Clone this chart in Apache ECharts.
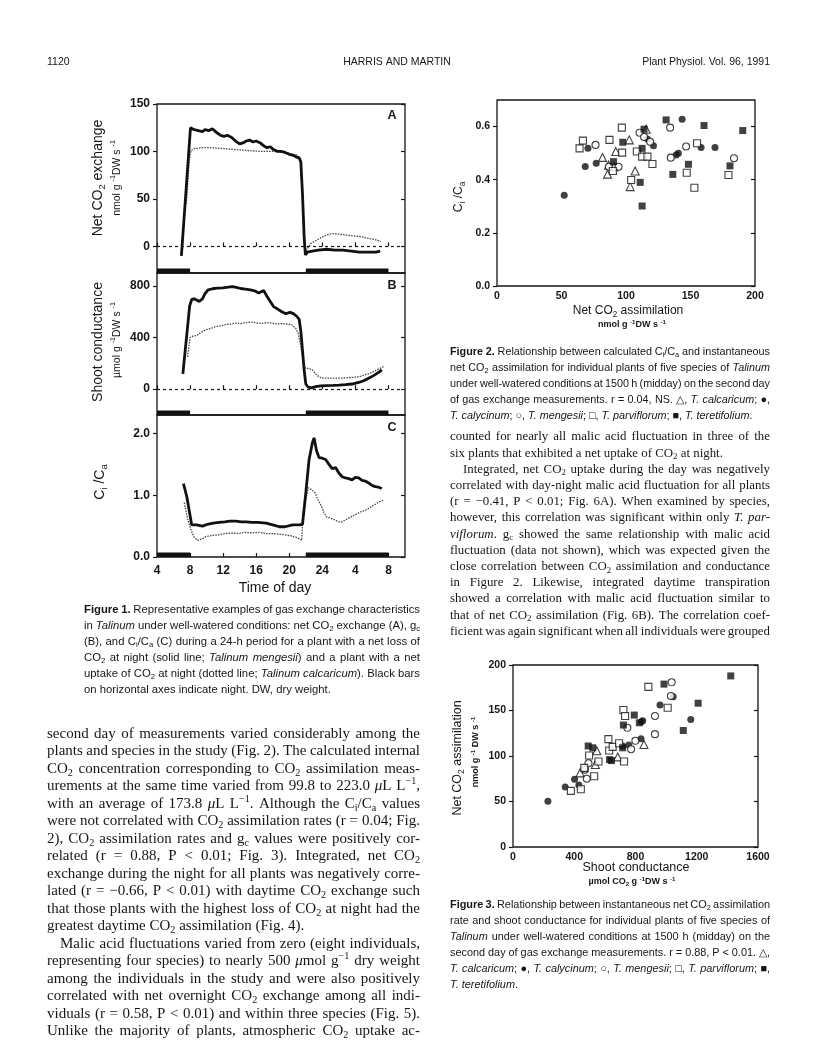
<!DOCTYPE html>
<html><head><meta charset="utf-8">
<script src="https://cdn.jsdelivr.net/npm/echarts@6/dist/echarts.min.js"></script>
<style>html,body{margin:0;padding:0;background:#fff}#c{width:816px;height:1052px}</style>
</head><body><div id="c"></div>
<script>
// ---------------- DATA ----------------
const hourTicks = [4, 8, 12, 16, 20, 24, 28, 32];
const nightStart = [4, 22];
const nightEnd = [8, 32];

// Fig 1A net CO2 exchange (solid: T. mengesii, dotted: T. calcaricum)
const netCO2_mengesii = [[6.95,-10],[8.05,125],[8.5,123],[9.0,122],[9.5,121],[9.8,123],[10.3,122],[10.7,124],[11.2,120],[11.7,117],[12.1,116],[12.5,117],[13.0,115],[13.5,111],[14.0,108],[14.4,109],[14.8,111],[15.2,112],[15.6,110],[16.0,111],[16.5,109],[16.9,106],[17.3,104],[17.7,105],[18.1,102],[18.6,100],[19.0,100],[19.5,99],[20.0,97],[20.5,96],[20.9,94],[21.2,93],[21.4,89],[21.6,55],[21.8,10],[21.95,-9],[22.2,-6],[22.8,-5],[23.5,-4],[24.5,-3],[25.5,-4],[26.5,-4],[27.5,-5],[28.5,-6],[29.5,-6],[30.5,-6],[31.0,-5]];
const netCO2_calcaricum = [[7.55,45],[7.9,90],[8.1,101],[8.5,103],[9.5,104],[10.5,104],[12,103],[13.5,102],[15,101],[16.5,100],[18,100],[19.5,99],[20.5,97],[21.0,96],[21.4,92],[21.6,60],[21.8,10],[21.95,-8],[22.2,-2],[22.6,3],[23.2,6],[23.8,9],[24.5,12],[25.2,13.5],[26,13],[26.8,12],[27.8,11],[28.8,10],[29.8,8],[30.5,7],[31.1,5]];

// Fig 1B shoot conductance
const gc_mengesii = [[7.13,118],[7.95,645],[8.2,695],[8.5,700],[8.8,690],[9.1,680],[9.5,700],[9.8,740],[10.2,770],[10.7,778],[11.3,783],[12,785],[12.6,790],[13.1,795],[13.6,788],[14.1,780],[14.7,775],[15.3,770],[15.8,762],[16.3,745],[16.9,765],[17.3,720],[17.7,680],[18.1,640],[18.6,620],[19.1,600],[19.6,585],[20.1,595],[20.5,585],[20.9,565],[21.2,540],[21.4,450],[21.6,300],[21.8,150],[22.0,40],[22.3,15],[22.7,10],[23.2,20],[23.8,25],[24.5,28],[25.3,30],[26.0,32],[26.8,35],[27.6,40],[28.4,52],[29.0,65],[29.6,85],[30.2,105],[30.8,130],[31.2,150]];
const gc_calcaricum = [[7.7,250],[8.0,400],[8.3,410],[8.8,415],[9.3,440],[9.9,460],[10.5,470],[11.1,485],[11.7,490],[12.3,500],[12.9,505],[13.5,512],[14.1,508],[14.7,515],[15.5,520],[16.1,512],[16.7,510],[17.3,515],[17.9,512],[18.5,505],[19.1,508],[19.7,505],[20.3,500],[20.8,470],[21.1,430],[21.4,330],[21.7,220],[21.9,165],[22.3,160],[22.8,150],[23.3,110],[23.9,85],[24.6,85],[25.4,85],[26.2,85],[27.0,88],[27.8,92],[28.6,100],[29.4,115],[30.0,130],[30.6,150],[31.1,165],[31.4,175]];

// Fig 1C Ci/Ca
const ci_mengesii = [[7.2,1.19],[7.6,0.98],[8.2,0.52],[8.8,0.52],[9.5,0.5],[10.1,0.53],[10.8,0.55],[11.5,0.56],[12.2,0.57],[12.8,0.58],[13.5,0.58],[14.2,0.57],[14.8,0.57],[15.5,0.56],[16.2,0.56],[17.2,0.55],[18.0,0.52],[18.8,0.49],[19.5,0.49],[20.4,0.52],[21.2,0.52],[21.6,0.53],[22.0,1.04],[22.4,1.58],[22.8,1.85],[23.0,1.93],[23.3,1.72],[23.6,1.61],[24.0,1.6],[24.4,1.58],[24.8,1.5],[25.2,1.43],[25.6,1.45],[26.0,1.36],[26.4,1.3],[26.8,1.28],[27.2,1.27],[27.6,1.25],[28.0,1.29],[28.4,1.28],[28.8,1.24],[29.2,1.23],[29.6,1.2],[30.0,1.16],[30.4,1.14],[30.8,1.13],[31.2,1.11]];
const ci_calcaricum = [[7.3,0.88],[7.7,0.62],[8.1,0.44],[8.5,0.32],[8.9,0.27],[9.4,0.29],[9.9,0.33],[10.7,0.35],[11.5,0.36],[12.3,0.38],[13.1,0.39],[13.9,0.38],[14.7,0.4],[15.5,0.39],[16.3,0.4],[17.1,0.38],[17.9,0.38],[18.7,0.37],[19.5,0.36],[20.3,0.34],[21.0,0.31],[21.5,0.27],[21.7,0.76],[22.3,1.12],[22.7,1.09],[23.1,1.04],[23.5,0.92],[23.9,0.82],[24.2,0.72],[24.5,0.65],[25.0,0.63],[25.5,0.6],[26.0,0.57],[26.4,0.57],[26.8,0.6],[27.2,0.63],[27.6,0.66],[28.2,0.7],[28.8,0.74],[29.4,0.77],[30.0,0.82],[30.6,0.87],[31.0,0.9],[31.4,0.92]];

// Fig 2: [net CO2 assimilation, Ci/Ca]
const fig2_calcaricum = [[81.8,0.484],[86.5,0.455],[85.7,0.421],[92.1,0.506],[90.8,0.449],[102.5,0.55],[103.2,0.374],[107.1,0.433],[115.6,0.59]];
const fig2_calycinum = [[52.1,0.342],[68.4,0.450],[70.5,0.518],[76.9,0.462],[116.6,0.553],[121.3,0.528],[138.8,0.493],[140.6,0.5],[143.5,0.628],[158.2,0.521],[169,0.521]];
const fig2_mengesii = [[76.4,0.531],[86.7,0.449],[94.2,0.449],[110.5,0.577],[114,0.561],[118.7,0.543],[134.2,0.596],[134.7,0.483],[146.6,0.525],[183.7,0.481]];
const fig2_parviflorum = [[64,0.518],[66.6,0.547],[87.2,0.55],[89.8,0.433],[96.8,0.596],[97,0.502],[104,0.399],[108.4,0.506],[112.5,0.487],[116.6,0.487],[120.5,0.459],[147.1,0.426],[153,0.37],[155.1,0.537],[179.4,0.418]];
const fig2_teretifolium = [[90.3,0.468],[97.5,0.541],[111,0.39],[112.5,0.518],[112.5,0.301],[114,0.59],[131.1,0.625],[136.3,0.42],[148.4,0.458],[160.5,0.604],[180.6,0.452],[190.5,0.585]];

// Fig 3: [shoot conductance, net CO2 assimilation]
const fig3_calcaricum = [[438,81.5],[538,90.6],[547,105.7],[684,99],[855,112.7]];
const fig3_calycinum = [[228,50.3],[341,66],[402,74.5],[430,68],[716,111],[756,112],[836,119],[838,137.6],[847,138.7],[960,156],[1046,165],[1161,140]];
const fig3_mengesii = [[482,75],[470,85],[493,92],[747,131],[771,107.5],[799,116.7],[927,144],[927,124],[1031,166],[1036,181]];
const fig3_parviflorum = [[378,61.7],[443,63.5],[465,87],[497,100.5],[530,77.8],[558,94],[623,118.5],[628,106],[651,110],[693,114],[721,150.5],[732,144],[725,94],[884,176],[1010,153]];
const fig3_teretifolium = [[491,111],[521,109],[630,96],[643,95],[716,109],[721,134],[792,145],[825,136.5],[986,179],[1112,128],[1209,158],[1422,188]];

// tick label values
const fig1A_yTicks = [0, 50, 100, 150];
const fig1B_yTicks = [0, 400, 800];
const fig1C_yTicks = [0, 1, 2];
const fig2_xTicks = [0, 50, 100, 150, 200];
const fig2_yTicks = [0, 0.2, 0.4, 0.6];
const fig3_xTicks = [0, 400, 800, 1200, 1600];
const fig3_yTicks = [0, 50, 100, 150, 200];

// ---------------- TEXT ENGINE ----------------
const SANS = '"Liberation Sans", Arial, Helvetica, sans-serif';
const SERIF = '"Liberation Serif", "Times New Roman", serif';
const INK = '#161616';
const mctx = document.createElement('canvas').getContext('2d');
function parseLine(s){
  const words=[]; let cur=[]; let it=false,b=false,sc=0; let buf='';
  const flush=()=>{ if(buf){cur.push({t:buf,it,b,sc}); buf='';} };
  for(let i=0;i<s.length;i++){
    const c=s[i];
    if(c==='*'){flush(); it=!it; continue;}
    if(c==='#'){flush(); b=!b; continue;}
    if((c==='_'||c==='^') && s[i+1]==='{'){flush(); sc=c==='_'?1:-1; i++; continue;}
    if(c==='}' && sc!==0){flush(); sc=0; continue;}
    if(c===' '){flush(); if(cur.length){words.push(cur); cur=[];} continue;}
    buf+=c;
  }
  flush(); if(cur.length) words.push(cur);
  return words;
}
function fsz(r,size){ return r.sc ? size*0.68 : size; }
function fontStr(r,size,fam){ return (r.it?'italic ':'')+(r.b?'bold ':'')+fsz(r,size)+'px '+fam; }
function measureRun(r,size,fam){ mctx.font=fontStr(r,size,fam); return mctx.measureText(r.t).width; }
function measureWord(w,size,fam){ return w.reduce((a,r)=>a+measureRun(r,size,fam),0); }
function textEl(r,x,y,size,fam,color){
  const dy = r.sc===1 ? size*0.28 : (r.sc===-1 ? -size*0.33 : 0);
  return {type:'text', x:x, y:y+dy, silent:true, z:10,
    style:{text:r.t, fill:color, fontSize:fsz(r,size), fontFamily:fam,
      fontWeight:r.b?'bold':'normal', fontStyle:r.it?'italic':'normal',
      align:'left', verticalAlign:'middle', textAlign:'left', textVerticalAlign:'middle'}};
}
function placeWord(w,x,y,size,fam,color,out){ let cx=x; w.forEach(r=>{ out.push(textEl(r,cx,y,size,fam,color)); cx+=measureRun(r,size,fam); }); }
function para(lines,o){
  const P=lines.map(l=>typeof l==='string'?{s:l}:l).map(l=>({w:parseLine(l.s), j:l.j!==false, ind:l.ind||0}));
  let size=o.size;
  mctx.font=size+'px '+o.fam; const sp=mctx.measureText(' ').width;
  let ratio=0;
  P.forEach(p=>{ const nat=p.w.reduce((a,w)=>a+measureWord(w,size,o.fam),0)+(p.w.length-1)*sp*0.75; ratio=Math.max(ratio,nat/(o.w-p.ind)); });
  if(ratio>1) size=size/ratio;
  mctx.font=size+'px '+o.fam; const sp2=mctx.measureText(' ').width;
  const out=[];
  P.forEach((p,i)=>{
    const y=o.y+i*o.lh;
    const ws=p.w.map(w=>measureWord(w,size,o.fam));
    const tot=ws.reduce((a,b)=>a+b,0); const n=p.w.length;
    const gap=(p.j&&n>1)?(o.w-p.ind-tot)/(n-1):sp2;
    let x=o.x+p.ind;
    p.w.forEach((w,k)=>{ placeWord(w,x,y,size,o.fam,o.color||INK,out); x+=ws[k]+gap; });
  });
  return out;
}
function label(s,cx,cy,size,fam,o){
  o=o||{};
  const W=parseLine(s);
  if(o.b) W.forEach(w=>w.forEach(r=>r.b=true));
  mctx.font=(o.b?'bold ':'')+size+'px '+fam; const sp=mctx.measureText(' ').width;
  const ws=W.map(w=>measureWord(w,size,fam));
  const tot=ws.reduce((a,b)=>a+b,0)+sp*(W.length-1);
  const children=[];
  let x=o.align==='left'?0:(o.align==='right'?-tot:-tot/2);
  W.forEach((w,k)=>{ placeWord(w,x,0,size,fam,o.color||INK,children); x+=ws[k]+sp; });
  return {type:'group', x:cx, y:cy, rotation:o.rot||0, silent:true, children};
}

// ---------------- TEXT CONTENT ----------------
const fig1Caption = [
  '#Figure 1.# Representative examples of gas exchange characteristics',
  'in *Talinum* under well-watered conditions: net CO_{2} exchange (A), g_{c}',
  '(B), and C_{i}/C_{a} (C) during a 24-h period for a plant with a net loss of',
  'CO_{2} at night (solid line; *Talinum mengesii*) and a plant with a net',
  'uptake of CO_{2} at night (dotted line; *Talinum calcaricum*). Black bars',
  {s:'on horizontal axes indicate night. DW, dry weight.', j:false}
];
const leftBody = [
  'second day of measurements varied considerably among the',
  'plants and species in the study (Fig. 2). The calculated internal',
  'CO_{2} concentration corresponding to CO_{2} assimilation meas-',
  'urements at the same time varied from 99.8 to 223.0 *μ*L L^{−1},',
  'with an average of 173.8 *μ*L L^{−1}. Although the C_{i}/C_{a} values',
  'were not correlated with CO_{2} assimilation rates (r = 0.04; Fig.',
  '2), CO_{2} assimilation rates and g_{c} values were positively cor-',
  'related (r = 0.88, P < 0.01; Fig. 3). Integrated, net CO_{2}',
  'exchange during the night for all plants was negatively corre-',
  'lated (r = −0.66, P < 0.01) with daytime CO_{2} exchange such',
  'that those plants with the highest loss of CO_{2} at night had the',
  {s:'greatest daytime CO_{2} assimilation (Fig. 4).', j:false},
  {s:'Malic acid fluctuations varied from zero (eight individuals,', ind:13},
  'representing four species) to nearly 500 *μ*mol g^{−1} dry weight',
  'among the individuals in the study and were also positively',
  'correlated with net overnight CO_{2} exchange among all indi-',
  'viduals (r = 0.58, P < 0.01) and within three species (Fig. 5).',
  'Unlike the majority of plants, atmospheric CO_{2} uptake ac-'
];
const fig2Caption = [
  '#Figure 2.# Relationship between calculated C_{i}/C_{a} and instantaneous',
  'net CO_{2} assimilation for individual plants of five species of *Talinum*',
  'under well-watered conditions at 1500 h (midday) on the second day',
  'of gas exchange measurements. r = 0.04, NS. △, *T. calcaricum*; ●,',
  {s:'*T. calycinum*; ○, *T. mengesii*; □, *T. parviflorum*; ■, *T. teretifolium*.', j:false}
];
const rightBody = [
  'counted for nearly all malic acid fluctuation in three of the',
  {s:'six plants that exhibited a net uptake of CO_{2} at night.', j:false},
  {s:'Integrated, net CO_{2} uptake during the day was negatively', ind:13},
  'correlated with day-night malic acid fluctuation for all plants',
  '(r = −0.41, P < 0.01; Fig. 6A). When examined by species,',
  'however, this correlation was significant within only *T. par-*',
  '*viflorum*. g_{c} showed the same relationship with malic acid',
  'fluctuation (data not shown), which was expected given the',
  'close correlation between CO_{2} assimilation and conductance',
  'in Figure 2. Likewise, integrated daytime transpiration',
  'showed a correlation with malic acid fluctuation similar to',
  'that of net CO_{2} assimilation (Fig. 6B). The correlation coef-',
  'ficient was again significant when all individuals were grouped'
];
const fig3Caption = [
  '#Figure 3.# Relationship between instantaneous net CO_{2} assimilation',
  'rate and shoot conductance for individual plants of five species of',
  '*Talinum* under well-watered conditions at 1500 h (midday) on the',
  'second day of gas exchange measurements. r = 0.88, P < 0.01. △,',
  '*T. calcaricum*; ●, *T. calycinum*; ○, *T. mengesii*; □, *T. parviflorum*; ■,',
  {s:'*T. teretifolium*.', j:false}
];

const R = Math.PI/2;
let G = [];
G.push(label('1120', 47, 62, 10.5, SANS, {align:'left'}));
G.push(label('HARRIS AND MARTIN', 397, 62, 10.5, SANS));
G.push(label('Plant Physiol. Vol. 96, 1991', 770, 62, 10.5, SANS, {align:'right'}));
G = G.concat(para(fig1Caption, {x:84, y:610, w:336, lh:16, size:11.3, fam:SANS}));
G = G.concat(para(leftBody, {x:47, y:734, w:373, lh:17.5, size:15, fam:SERIF}));
G = G.concat(para(fig2Caption, {x:450, y:352, w:320, lh:16, size:11.3, fam:SANS}));
G = G.concat(para(rightBody, {x:450, y:437, w:320, lh:16.2, size:15, fam:SERIF}));
G = G.concat(para(fig3Caption, {x:450, y:905, w:320, lh:16, size:11.3, fam:SANS}));
// Fig 1 axis titles / panel letters
G.push(label('Net CO_{2} exchange', 98, 178, 14, SANS, {rot:R}));
G.push(label('nmol g ^{-1}DW s ^{-1}', 117, 178, 10.5, SANS, {rot:R}));
G.push(label('Shoot conductance', 98, 342, 14, SANS, {rot:R}));
G.push(label('µmol g ^{-1}DW s ^{-1}', 117, 340, 10.5, SANS, {rot:R}));
G.push(label('C_{i} /C_{a}', 100, 482, 14, SANS, {rot:R}));
G.push(label('Time of day', 275, 588, 14, SANS));
G.push(label('A', 392, 116, 12.5, SANS, {b:true}));
G.push(label('B', 392, 286, 12.5, SANS, {b:true}));
G.push(label('C', 392, 428, 12.5, SANS, {b:true}));
// Fig 2
G.push(label('C_{i} /C_{a}', 459, 197, 12, SANS, {rot:R}));
G.push(label('Net CO_{2} assimilation', 628, 311, 12, SANS));
G.push(label('nmol g ^{-1}DW s ^{-1}', 632, 325, 9, SANS, {b:true}));
// Fig 3
G.push(label('Net CO_{2} assimilation', 458, 758, 12.5, SANS, {rot:R}));
G.push(label('nmol g ^{-1} DW s ^{-1}', 476, 752, 9, SANS, {rot:R, b:true}));
G.push(label('Shoot conductance', 636, 868, 12.5, SANS));
G.push(label('µmol CO_{2} g ^{-1}DW s ^{-1}', 632, 882, 9, SANS, {b:true}));

// ---------------- CHART ----------------
const gridStyle = {show:true, borderColor:INK, borderWidth:1.3, backgroundColor:'transparent', containLabel:false};
const grids = [
  Object.assign({left:157, top:104, width:248, height:169}, gridStyle),
  Object.assign({left:157, top:273, width:248, height:142}, gridStyle),
  Object.assign({left:157, top:415, width:248, height:142}, gridStyle),
  Object.assign({left:497, top:100, width:258, height:186}, gridStyle),
  Object.assign({left:513, top:665, width:245, height:182}, gridStyle)
];
const lblStyle = {fontFamily:SANS, fontWeight:'bold', color:INK};
function xAx(g, min, max, ticks, showLbl, fmt, showTick, size){
  return {gridIndex:g, type:'value', min, max, axisLine:{show:false}, splitLine:{show:false},
    axisTick:{show:showTick, inside:true, length:4, customValues:ticks, lineStyle:{color:INK, width:1.2}},
    axisLabel:Object.assign({show:showLbl, customValues:ticks, formatter:fmt, fontSize:size||11.5, margin:7}, lblStyle)};
}
function yAx(g, min, max, ticks, fmt, size, right){
  return {gridIndex:g, type:'value', min, max, position:right?'right':'left', axisLine:{show:false}, splitLine:{show:false},
    axisTick:{show:true, inside:!!right, length:4, customValues:ticks, lineStyle:{color:INK, width:1.2}},
    axisLabel:Object.assign({show:!right, customValues:ticks, formatter:fmt, fontSize:size||11.5, margin:7}, lblStyle)};
}
const hourFmt = v => String(v > 24 ? v - 24 : v);
const f1 = v => v.toFixed(1);
const f0 = v => String(v);
const xAxis = [
  xAx(0, 4, 34, hourTicks, false, hourFmt, true),
  xAx(1, 4, 34, hourTicks, false, hourFmt, true),
  xAx(2, 4, 34, hourTicks, true, hourFmt, true, 12),
  xAx(3, 0, 200, fig2_xTicks, true, f0, false, 10.5),
  xAx(4, 0, 1600, fig3_xTicks, true, f0, false, 10.5)
];
xAxis[3].axisLabel.margin = 5; xAxis[4].axisLabel.margin = 5; xAxis[2].axisLabel.margin = 8;
const yAxis = [
  yAx(0, -28, 150, fig1A_yTicks, f0, 12),
  yAx(1, -200, 900, fig1B_yTicks, f0, 12),
  yAx(2, 0, 2.3, fig1C_yTicks, f1, 12),
  yAx(3, 0, 0.7, fig2_yTicks, f1, 10.5),
  yAx(4, 0, 200, fig3_yTicks, f0, 10.5),
  yAx(0, -28, 150, fig1A_yTicks, f0, 12, true),
  yAx(1, -200, 900, fig1B_yTicks, f0, 12, true),
  yAx(2, 0, 2.3, fig1C_yTicks, f1, 12, true),
  yAx(3, 0, 0.7, fig2_yTicks, f1, 10.5, true),
  yAx(4, 0, 200, fig3_yTicks, f0, 10.5, true)
];

const zeroLine = {silent:true, symbol:'none', label:{show:false}, lineStyle:{type:[3,3], color:INK, width:1.2}, data:[{yAxis:0}]};
function solid(ax, data){ return {type:'line', xAxisIndex:ax, yAxisIndex:ax, data, showSymbol:false, symbol:'none', lineStyle:{color:'#111', width:2.8}, z:5}; }
function dotted(ax, data, zl){ const s={type:'line', xAxisIndex:ax, yAxisIndex:ax, data, showSymbol:false, symbol:'none', lineStyle:{color:'#444', width:1.3, type:[1.5,1.2]}, z:4}; if(zl) s.markLine=zeroLine; return s; }
function night(ax, yMin){
  return {type:'custom', xAxisIndex:ax, yAxisIndex:ax, silent:true, clip:false, z:6,
    data: nightStart.map((s,i)=>[s, nightEnd[i]]), encode:{x:[0,1]},
    renderItem:(params, api)=>{
      const p0=api.coord([api.value(0), yMin]); const p1=api.coord([api.value(1), yMin]);
      return {type:'rect', shape:{x:p0[0], y:p0[1]-4.5, width:p1[0]-p0[0], height:4.5}, style:{fill:'#111'}};
    }};
}
const open = {color:'#fff', borderColor:'#111', borderWidth:1.1};
const filled = {color:'#111', borderColor:'#111', borderWidth:0};
function sc(ax, data, symbol, style, size){ return {type:'scatter', xAxisIndex:ax, yAxisIndex:ax, data, symbol, symbolSize:size, itemStyle:style, z:5}; }

const series = [
  dotted(0, netCO2_calcaricum, true), solid(0, netCO2_mengesii), night(0, -28),
  dotted(1, gc_calcaricum, true), solid(1, gc_mengesii), night(1, -200),
  dotted(2, ci_calcaricum, false), solid(2, ci_mengesii), night(2, 0),
  sc(3, fig2_calcaricum, 'triangle', open, 8), sc(3, fig2_calycinum, 'circle', filled, 7),
  sc(3, fig2_mengesii, 'circle', open, 7), sc(3, fig2_parviflorum, 'rect', open, 7),
  sc(3, fig2_teretifolium, 'rect', filled, 7),
  sc(4, fig3_calcaricum, 'triangle', open, 8), sc(4, fig3_calycinum, 'circle', filled, 7),
  sc(4, fig3_mengesii, 'circle', open, 7), sc(4, fig3_parviflorum, 'rect', open, 7),
  sc(4, fig3_teretifolium, 'rect', filled, 7)
];

const chart = echarts.init(document.getElementById('c'), null, {renderer:'canvas'});
chart.setOption({
  backgroundColor:'#fff', animation:false,
  grid: grids, xAxis, yAxis, series,
  graphic: {elements: G}
});
</script></body></html>
